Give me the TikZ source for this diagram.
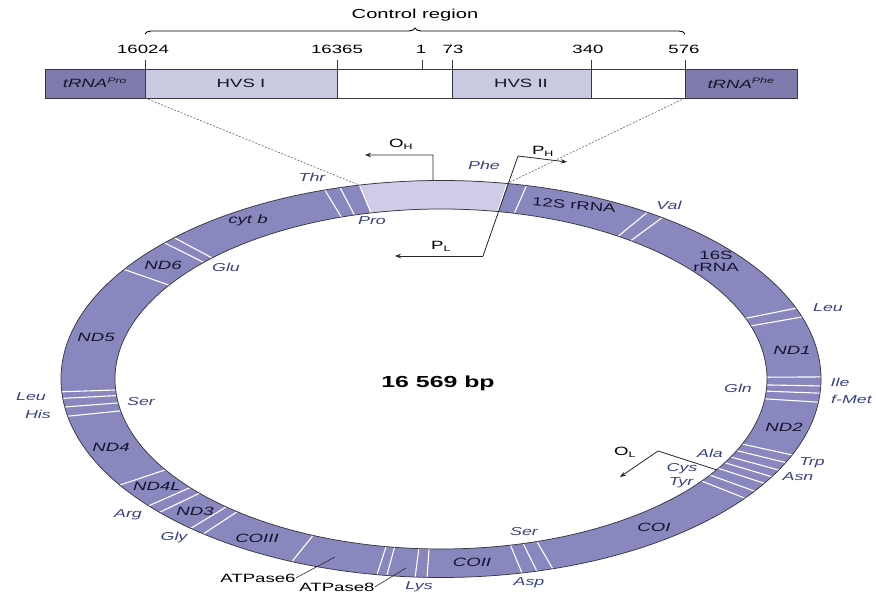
\documentclass[tikz,border=0pt]{standalone}
\usepackage{fontspec}
\setmainfont{Liberation Sans}[FakeStretch=1.55]
\usetikzlibrary{arrows.meta,decorations.pathreplacing}
\definecolor{ringc}{RGB}{137,136,190}
\definecolor{lightc}{RGB}{206,204,230}
\definecolor{bardark}{RGB}{126,124,172}
\definecolor{barlight}{RGB}{202,201,226}
\definecolor{edgec}{RGB}{55,55,65}
\definecolor{trnac}{RGB}{55,65,135}
\definecolor{genec}{RGB}{20,20,45}
\def\rcx{441}\def\rcy{379}\def\rao{380}\def\rbo{198.5}\def\rai{326}\def\rbi{170}
\tikzset{
  gene/.style={font=\fontsize{12}{14}\selectfont\itshape, text=genec, inner sep=0pt},
  generm/.style={font=\fontsize{12}{14}\selectfont, text=genec, inner sep=0pt},
  trna/.style={font=\fontsize{11.5}{13}\selectfont\itshape, text=trnac, inner sep=0pt},
  num/.style={font=\fontsize{12}{14}\selectfont, text=black, inner sep=0pt},
  conn/.style={draw=black!85, line width=0.8pt},
  arr/.style={conn, -{Stealth[length=6pt,width=4.5pt]}},
  sep/.style={draw=white, line width=1.1pt},
  boxd/.style={fill=bardark, draw=edgec, line width=0.6pt},
  boxl/.style={fill=barlight, draw=edgec, line width=0.6pt},
  boxw/.style={fill=white, draw=edgec, line width=0.6pt},
  tick/.style={draw=edgec, line width=0.7pt},
  dashline/.style={draw=black!70, line width=0.5pt, dash pattern=on 2pt off 1.5pt}
}
\begin{document}
\begin{tikzpicture}[x=1pt,y=-1pt]
\useasboundingbox (0,0) rectangle (876,601);
% ---------- top bar ----------
\path[boxd] (45,69) rectangle (145,98);
\path[boxl] (145,69) rectangle (337,98);
\path[boxw] (337,69) rectangle (452,98);
\path[boxl] (452,69) rectangle (591,98);
\path[boxw] (591,69) rectangle (685,98);
\path[boxd] (685,69) rectangle (797,98);
\foreach \xx in {145,337,452,591,685} \draw[tick] (\xx,60) -- (\xx,69);
\draw[tick] (422,60) -- (422,69);
\node[num] (n1) at (143,49) {16024};
\node[num] (n2) at (337,49) {16365};
\node[num] (n3) at (421,49) {1};
\node[num] (n4) at (453,49) {73};
\node[num] (n5) at (588,49) {340};
\node[num] (n6) at (684,49) {576};
\node[generm] (tpro) at (95,83) {\textit{tRNA\textsuperscript{Pro}}};
\node[generm] (hvs1) at (241,83) {HVS I};
\node[generm] (hvs2) at (521,83) {HVS II};
\node[generm] (tphe) at (741,83) {\textit{tRNA\textsuperscript{Phe}}};
\draw[decorate, decoration={brace, amplitude=6pt}, line width=0.9pt] (145,34) -- (685,34);
\node[num, font=\fontsize{13}{15}\selectfont] (ctrl) at (415,15) {Control region};
% ---------- ring ----------
\fill[ringc, even odd rule] (\rcx,\rcy) ellipse [x radius=\rao, y radius=\rbo]
   (\rcx,\rcy) ellipse [x radius=\rai, y radius=\rbi];
\fill[lightc] plot[domain=80:102.4, samples=30] ({\rcx+\rao*cos(\x)},{\rcy-\rbo*sin(\x)})
   -- plot[domain=102.4:80, samples=30] ({\rcx+\rai*cos(\x)},{\rcy-\rbi*sin(\x)}) -- cycle;
\foreach \a in {107.8,105.4,102.4,80.0,77.0,57.1,54.4,20.9,18.2,0.6,-2.0,-4.1,-6.7,
  -22.5,-24.9,-27.3,-29.5,-31.7,-34.4,-36.9,-72.9,-75.4,-77.7,-92.1,-93.9,-98.2,-99.7,
  -113.1,-128.7,-131.2,-137.8,-140.3,-147.7,-169.2,-171.9,-174.4,-176.3,146.5,136.7,134.6}
  \draw[sep] ({\rcx+\rai*cos(\a)},{\rcy-\rbi*sin(\a)}) -- ({\rcx+\rao*cos(\a)},{\rcy-\rbo*sin(\a)});
\draw[edgec, line width=0.75pt] (\rcx,\rcy) ellipse [x radius=\rao, y radius=\rbo];
\draw[edgec, line width=0.75pt] (\rcx,\rcy) ellipse [x radius=\rai, y radius=\rbi];
% ---------- coordinates ----------
\coordinate (cl) at ({\rcx+\rao*cos(102.4)},{\rcy-\rbo*sin(102.4)});
\coordinate (cr) at ({\rcx+\rao*cos(80)},{\rcy-\rbo*sin(80)});
\coordinate (bl) at (145,98);
\coordinate (br) at (685,98);
\draw[dashline] (bl) -- (cl);
\draw[dashline] (br) -- (cr);
% O_H
\coordinate (oh0) at ({\rcx+\rao*cos(91.2)},{\rcy-\rbo*sin(91.2)});
\coordinate (oh1) at (433,155);
\coordinate (oh2) at (365,155);
\draw[arr] (oh0) -- (oh1) -- (oh2);
\node[generm, text=black] (ohl) at (401,144) {O\textsubscript{H}};
% P_H / P_L
\coordinate (pb) at (483,256);
\coordinate (pt) at (518,156);
\coordinate (ph) at (567,162);
\coordinate (pl) at (395,256);
\draw[conn] (pb) -- (pt);
\draw[arr] (pt) -- (ph);
\draw[arr] (pb) -- (pl);
\node[generm, text=black] (phl) at (543,151) {P\textsubscript{H}};
\node[generm, text=black] (pll) at (441,246) {P\textsubscript{L}};
% O_L
\coordinate (ol0) at ({\rcx+\rai*cos(-32.3)},{\rcy-\rbi*sin(-32.3)});
\coordinate (ol1) at (658,451);
\coordinate (ol2) at (620,477);
\draw[arr] (ol0) -- (ol1) -- (ol2);
\node[generm, text=black] (oll) at (625,452) {O\textsubscript{L}};
% ---------- tRNA labels ----------
\node[trna] (thr) at (312,177) {Thr};
\node[trna] (pro) at (372,221) {Pro};
\node[trna] (phe) at (484,165) {Phe};
\node[trna] (val) at (669,205) {Val};
\node[trna] (leuR) at (828,308) {Leu};
\node[trna] (gln) at (738,388) {Gln};
\node[trna] (ile) at (840,382) {Ile};
\node[trna, anchor=west] (fmet) at (831,399) {f-Met};
\node[trna] (ala) at (710,453) {Ala};
\node[trna] (trp) at (812,463) {Trp};
\node[trna] (asn) at (798,477) {Asn};
\node[trna] (cys) at (682,469) {Cys};
\node[trna] (tyr) at (681,483) {Tyr};
\node[trna] (serB) at (524,532) {Ser};
\node[trna] (asp) at (529,583) {Asp};
\node[trna] (lys) at (419,587) {Lys};
\node[trna] (gly) at (174,538) {Gly};
\node[trna] (arg) at (128,515) {Arg};
\node[trna] (leuL) at (31,397) {Leu};
\node[trna] (his) at (38,414) {His};
\node[trna] (serL) at (141,402) {Ser};
\node[trna] (glu) at (226,267) {Glu};
% ---------- gene labels ----------
\node[gene] (cytb) at (248,220) {cyt b};
\node[gene] (nd6) at (163,265) {ND6};
\node[gene] (nd5) at (96,337) {ND5};
\node[gene] (nd4) at (111,447) {ND4};
\node[gene] (nd4l) at (157,486) {ND4L};
\node[gene] (nd3) at (195,511) {ND3};
\node[gene] (coiii) at (257,538) {COIII};
\node[gene] (coii) at (472,562) {COII};
\node[gene] (coi) at (654,527) {COI};
\node[gene] (nd2) at (784,427) {ND2};
\node[gene] (nd1) at (792,350) {ND1};
\node[generm, align=center, font=\fontsize{12}{12}\selectfont] (r16) at (716,261) {16S\\rRNA};
\node[generm, rotate=-5] (r12) at (574,205) {12S rRNA};
\node[generm, text=black] (atp6) at (258,578) {ATPase6};
\node[generm, text=black] (atp8) at (337,587) {ATPase8};
\coordinate (a6) at (335,557);
\coordinate (a8) at (406,568);
\draw[conn, line width=0.6pt] (atp6.east) -- (a6);
\draw[conn, line width=0.6pt] (atp8.east) -- (a8);
\node[font=\fontsize{16}{18}\selectfont\bfseries, inner sep=0pt] (bp) at (438,383) {16\hspace{7pt}569 bp};
\end{tikzpicture}
\end{document}
